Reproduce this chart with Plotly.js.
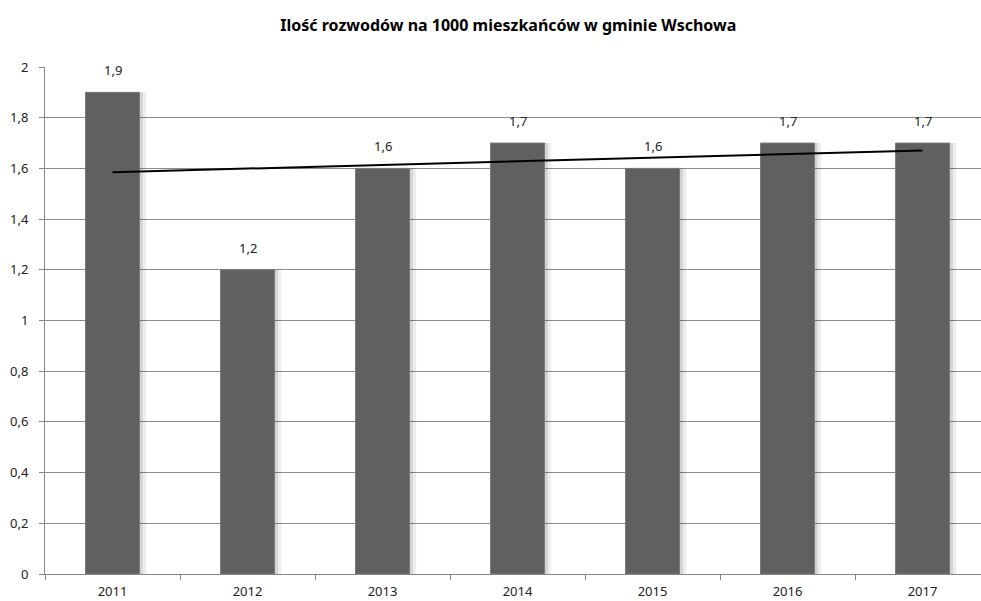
<!DOCTYPE html>
<html>
<head>
<meta charset="utf-8">
<script src="https://cdn.plot.ly/plotly-3.0.1.min.js"></script>
<style>html,body{margin:0;padding:0;background:#fff;}</style>
</head>
<body>
<div id="chart" style="width:981px;height:601px;"></div>
<script>
const years = ["2011", "2012", "2013", "2014", "2015", "2016", "2017"];
const values = [1.9, 1.2, 1.6, 1.7, 1.6, 1.7, 1.7];
const valueLabels = ["1,9", "1,2", "1,6", "1,7", "1,6", "1,7", "1,7"];
const trendYears = ["2011", "2017"];
const trendValues = [1.585, 1.671];
const yTickVals = [0, 0.2, 0.4, 0.6, 0.8, 1, 1.2, 1.4, 1.6, 1.8, 2];
const yTickText = ["0", "0,2", "0,4", "0,6", "0,8", "1", "1,2", "1,4", "1,6", "1,8", "2"];
const titleText = "Ilość rozwodów na 1000 mieszkańców w gminie Wschowa";

const font = "Noto Sans, Open Sans, Liberation Sans, sans-serif";

const shadow1 = {
  type: "bar", x: years, y: values, width: 0.44, offset: -0.19,
  marker: {color: "rgba(0,0,0,0.07)"}, hoverinfo: "skip", showlegend: false
};
const shadow2 = {
  type: "bar", x: years, y: values, width: 0.42, offset: -0.195,
  marker: {color: "rgba(0,0,0,0.10)"}, hoverinfo: "skip", showlegend: false
};
const bars = {
  type: "bar", x: years, y: values, width: 0.4, offset: -0.2,
  marker: {color: "#606060", line: {color: "#7a7a7a", width: 1}},
  showlegend: false
};
const trend = {
  type: "scatter", mode: "lines", x: trendYears, y: trendValues,
  line: {color: "#000000", width: 2}, showlegend: false
};

const annotations = years.map((yr, i) => ({
  x: i, y: values[i], xref: "x", yref: "y",
  text: valueLabels[i], showarrow: false, yanchor: "middle", yshift: 22,
  font: {family: font, size: 13, color: "#222"}
}));

const layout = {
  width: 981, height: 601,
  margin: {l: 45, r: 0, t: 67, b: 27, pad: 0},
  paper_bgcolor: "#ffffff", plot_bgcolor: "#ffffff",
  barmode: "overlay",
  title: {
    text: "<b>" + titleText + "</b>",
    font: {family: font, size: 16, color: "#000"},
    x: 0.495, xanchor: "center", xref: "paper",
    y: 1 - 25 / 601, yanchor: "middle", yref: "container"
  },
  xaxis: {
    type: "category",
    range: [-0.5, 6.433],
    tickson: "boundaries",
    ticks: "outside", ticklen: 5, tickcolor: "#868686",
    ticklabelstandoff: 5,
    showline: true, linecolor: "#868686", linewidth: 1,
    showgrid: false, zeroline: false,
    tickfont: {family: font, size: 13, color: "#222"},
    fixedrange: true
  },
  yaxis: {
    range: [0, 2],
    tickvals: yTickVals, ticktext: yTickText,
    ticks: "outside", ticklen: 5, tickcolor: "#868686",
    ticklabelstandoff: 8,
    showline: true, linecolor: "#868686", linewidth: 1,
    showgrid: true, gridcolor: "#8c8c8c", gridwidth: 1,
    zeroline: false,
    tickfont: {family: font, size: 13, color: "#222"},
    fixedrange: true
  },
  annotations: annotations
};

Plotly.newPlot("chart", [shadow1, shadow2, bars, trend], layout, {displayModeBar: false, staticPlot: true});
</script>
</body>
</html>
